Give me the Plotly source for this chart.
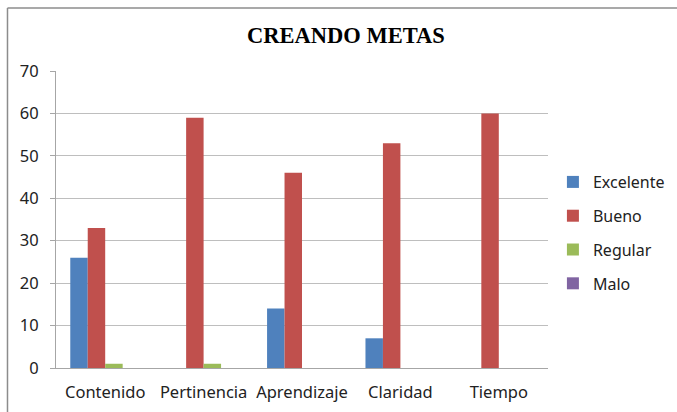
import plotly.graph_objects as go

categories = ["Contenido", "Pertinencia", "Aprendizaje", "Claridad", "Tiempo"]
excelente = [26, 0, 14, 7, 0]
bueno = [33, 59, 46, 53, 60]
regular = [1, 1, 0, 0, 0]
malo = [0, 0, 0, 0, 0]

series = [
    ("Excelente", excelente, "#4F81BD"),
    ("Bueno", bueno, "#C0504D"),
    ("Regular", regular, "#9BBB59"),
    ("Malo", malo, "#8064A2"),
]

fig = go.Figure()
for name, vals, color in series:
    fig.add_trace(go.Bar(
        x=categories, y=vals, name=name, marker_color=color,
        marker_line_width=0, legendgroup=name,
    ))

font_family = "Noto Sans, Liberation Sans, sans-serif"
fig.update_layout(
    width=677, height=412,
    margin=dict(l=56, r=129, t=71, b=44, autoexpand=False),
    paper_bgcolor="white", plot_bgcolor="white",
    barmode="group", bargap=0.29, bargroupgap=0,
    title=dict(text="<b>CREANDO METAS</b>", x=0.511, xanchor="center",
               y=1 - 35 / 412, yanchor="middle",
               font=dict(family="Liberation Serif, Times New Roman, serif", size=22.5, color="black")),
    font=dict(family=font_family, size=15, color="#222"),
    legend=dict(x=1.01, xanchor="left", y=0.4545, yanchor="middle",
                font=dict(family=font_family, size=16, color="#222"),
                tracegroupgap=10, itemwidth=30, bgcolor="rgba(0,0,0,0)"),
    yaxis=dict(range=[0, 70], dtick=10, showgrid=True, gridcolor="#BEBEBE", gridwidth=1,
               showline=True, linecolor="#A6A6A6", linewidth=1,
               ticks="outside", ticklen=5, tickcolor="#A6A6A6",
               zeroline=False, ticklabelstandoff=8, automargin=False,
               tickfont=dict(family=font_family, size=16.5, color="#222")),
    xaxis=dict(showline=True, linecolor="#A6A6A6", linewidth=1, showgrid=False,
               ticks="", ticklabelstandoff=9, automargin=False,
               tickfont=dict(family=font_family, size=16.5, color="#222")),
    shapes=[
        dict(type="line", xref="paper", yref="paper", x0=-0.0986, x1=-0.0986,
             y0=-0.2, y1=1.212, line=dict(color="#8C8C8C", width=1.5)),
        dict(type="line", xref="paper", yref="paper", x0=-0.0986, x1=1.3,
             y0=1.212, y1=1.212, line=dict(color="#8C8C8C", width=1.5)),
    ],
)

fig.write_html(
    "out.html",
    config={"displayModeBar": False},
    post_script=(
        "document.body.style.margin='0';"
        "document.body.style.overflow='hidden';"
        "document.documentElement.style.overflow='hidden';"
    ),
)
